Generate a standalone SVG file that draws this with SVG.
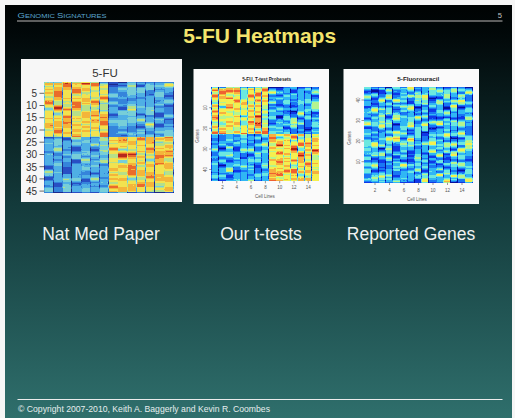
<svg xmlns="http://www.w3.org/2000/svg" width="515" height="418" viewBox="0 0 515 418">
  <defs>
    <style>
      .sans { font-family: "Liberation Sans", Arial, sans-serif; }
      .hd { font-family: "Liberation Sans", Arial, sans-serif; fill: #5ba6cf; }
      .title { font-family: "Liberation Sans", Arial, sans-serif; font-weight: bold; font-size: 21px; fill: #f4e46c; text-anchor: middle; }
      .cap { font-family: "Liberation Sans", Arial, sans-serif; font-size: 17.5px; fill: #f0f2f2; text-anchor: middle; }
      .panel { stroke: none; }
      .m1 { font-family: "Liberation Sans", Arial, sans-serif; font-size: 10px; fill: #333; text-anchor: end; }
      .rt { font-family: "Liberation Sans", Arial, sans-serif; font-weight: bold; fill: #222; text-anchor: middle; }
      .ra { font-family: "Liberation Sans", Arial, sans-serif; font-size: 4.5px; fill: #555; text-anchor: middle; }
      .tick { stroke: #555; stroke-width: 0.6; fill: none; }
      .tick1 { stroke: #444; stroke-width: 0.8; fill: none; }
    </style>

    <!-- slide background: near black at the top, teal at the bottom -->
    <linearGradient id="slideBg" x1="0" y1="0" x2="0" y2="1">
      <stop offset="0" stop-color="#000303"/>
      <stop offset="0.06" stop-color="#010708"/>
      <stop offset="0.484" stop-color="#133a3b"/>
      <stop offset="1" stop-color="#2f6f6c"/>
    </linearGradient>

    <!-- per-column expression bias: high in the upper block, low in the lower block, and vice versa -->
    <linearGradient id="upHigh" x1="0" y1="0" x2="0" y2="1">
      <stop offset="0" stop-color="#adadad"/>
      <stop offset="0.5" stop-color="#adadad"/>
      <stop offset="0.5" stop-color="#585858"/>
      <stop offset="1" stop-color="#585858"/>
    </linearGradient>
    <linearGradient id="upLow" x1="0" y1="0" x2="0" y2="1">
      <stop offset="0" stop-color="#585858"/>
      <stop offset="0.5" stop-color="#585858"/>
      <stop offset="0.5" stop-color="#adadad"/>
      <stop offset="1" stop-color="#adadad"/>
    </linearGradient>

    <!-- heatmap cell values: row noise (constant across a column) plus the column bias, mapped to a jet palette -->
    <filter id="hmA" x="0" y="0" width="1" height="1" color-interpolation-filters="sRGB">
      <feTurbulence type="fractalNoise" baseFrequency="0.0023 0.17" numOctaves="2" seed="4"/>
      <feColorMatrix type="matrix" values="1 0 0 0 0  1 0 0 0 0  1 0 0 0 0  0 0 0 0 1"/>
      <feComposite in2="SourceGraphic" operator="arithmetic" k1="0" k2="0.8" k3="1" k4="-0.4"/>
      <feComponentTransfer>
        <feFuncR type="discrete" tableValues=".11 .16 .21 .31 .47 .71 .95 .96 .92 .71"/>
        <feFuncG type="discrete" tableValues=".17 .31 .52 .69 .81 .88 .89 .71 .42 .16"/>
        <feFuncB type="discrete" tableValues=".55 .77 .86 .90 .85 .54 .31 .23 .17 .11"/>
        <feFuncA type="linear" slope="0" intercept="1"/>
      </feComponentTransfer>
    </filter>
    <filter id="hmB" x="0" y="0" width="1" height="1" color-interpolation-filters="sRGB">
      <feTurbulence type="fractalNoise" baseFrequency="0.0023 0.19" numOctaves="2" seed="11"/>
      <feColorMatrix type="matrix" values="1 0 0 0 0  1 0 0 0 0  1 0 0 0 0  0 0 0 0 1"/>
      <feComposite in2="SourceGraphic" operator="arithmetic" k1="0" k2="0.85" k3="1" k4="-0.425"/>
      <feComponentTransfer>
        <feFuncR type="discrete" tableValues=".03 .06 .10 .19 .42 .71 .96 .97 .94 .69"/>
        <feFuncG type="discrete" tableValues=".06 .22 .47 .72 .91 .96 .94 .69 .38 .13"/>
        <feFuncB type="discrete" tableValues=".61 .91 .96 .96 .88 .56 .31 .25 .19 .06"/>
        <feFuncA type="linear" slope="0" intercept="1"/>
      </feComponentTransfer>
    </filter>
    <filter id="hmC" x="0" y="0" width="1" height="1" color-interpolation-filters="sRGB">
      <feTurbulence type="fractalNoise" baseFrequency="0.0023 0.19" numOctaves="2" seed="23"/>
      <feColorMatrix type="matrix" values="1 0 0 0 0  1 0 0 0 0  1 0 0 0 0  0 0 0 0 1"/>
      <feComposite in2="SourceGraphic" operator="arithmetic" k1="0" k2="1.0" k3="1" k4="-0.5"/>
      <feComponentTransfer>
        <feFuncR type="discrete" tableValues=".03 .06 .10 .19 .42 .71 .96 .97 .94 .69"/>
        <feFuncG type="discrete" tableValues=".06 .22 .47 .72 .91 .96 .94 .69 .38 .13"/>
        <feFuncB type="discrete" tableValues=".61 .91 .96 .96 .88 .56 .31 .25 .19 .06"/>
        <feFuncA type="linear" slope="0" intercept="1"/>
      </feComponentTransfer>
    </filter>
  </defs>

  <!-- page and slide -->
  <rect width="515" height="418" fill="#f6f6f6"/>
  <rect x="5" y="5" width="507" height="413" fill="url(#slideBg)"/>

  <!-- running header -->
  <g id="header">
    <text class="hd" x="17.5" y="17.7" font-size="6" textLength="89" lengthAdjust="spacingAndGlyphs"><tspan font-size="7.6">G</tspan>ENOMIC <tspan font-size="7.6">S</tspan>IGNATURES</text>
    <text class="sans" x="502" y="17.6" font-size="7.6" fill="#c4c4c4" text-anchor="end">5</text>
    <line x1="17" y1="21" x2="502.5" y2="21" stroke="#7c7c7c" stroke-width="1.4"/>
  </g>

  <g id="title">
    <text class="title" x="259.7" y="42.5">5-FU Heatmaps</text>
  </g>

  <!-- panel 1: published heatmap -->
  <g id="panel-natmed">
    <rect class="panel" x="21" y="59" width="161" height="143" fill="#f7f7f7"/>
    <text class="sans" x="105" y="76.8" font-size="11.5" fill="#333" text-anchor="middle">5-FU</text>
    <g id="natmed-cells">
      <rect x="3000" y="82.3" width="9.3" height="110" fill="url(#upHigh)" filter="url(#hmA)" transform="translate(-2955.70 0)"/>
      <rect x="3613" y="82.3" width="9.3" height="110" fill="url(#upHigh)" filter="url(#hmA)" transform="translate(-3559.49 0)"/>
      <rect x="4226" y="82.3" width="9.3" height="110" fill="url(#upHigh)" filter="url(#hmA)" transform="translate(-4163.27 0)"/>
      <rect x="4839" y="82.3" width="9.3" height="110" fill="url(#upHigh)" filter="url(#hmA)" transform="translate(-4767.06 0)"/>
      <rect x="5452" y="82.3" width="9.3" height="110" fill="url(#upHigh)" filter="url(#hmA)" transform="translate(-5370.84 0)"/>
      <rect x="6065" y="82.3" width="9.3" height="110" fill="url(#upHigh)" filter="url(#hmA)" transform="translate(-5974.63 0)"/>
      <rect x="6678" y="82.3" width="9.3" height="110" fill="url(#upHigh)" filter="url(#hmA)" transform="translate(-6578.42 0)"/>
      <rect x="7291" y="82.3" width="9.3" height="110" fill="url(#upLow)" filter="url(#hmA)" transform="translate(-7182.20 0)"/>
      <rect x="7904" y="82.3" width="9.3" height="110" fill="url(#upLow)" filter="url(#hmA)" transform="translate(-7785.99 0)"/>
      <rect x="8517" y="82.3" width="9.3" height="110" fill="url(#upLow)" filter="url(#hmA)" transform="translate(-8389.77 0)"/>
      <rect x="9130" y="82.3" width="9.3" height="110" fill="url(#upLow)" filter="url(#hmA)" transform="translate(-8993.56 0)"/>
      <rect x="9743" y="82.3" width="9.3" height="110" fill="url(#upLow)" filter="url(#hmA)" transform="translate(-9597.35 0)"/>
      <rect x="10356" y="82.3" width="9.3" height="110" fill="url(#upLow)" filter="url(#hmA)" transform="translate(-10201.13 0)"/>
      <rect x="10969" y="82.3" width="9.22" height="110" fill="url(#upLow)" filter="url(#hmA)" transform="translate(-10804.92 0)"/>
    </g>
    <path class="tick1" d="M39.5 93.3H44.3M39.5 105.5H44.3M39.5 117.7H44.3M39.5 130H44.3M39.5 142.2H44.3M39.5 154.5H44.3M39.5 166.7H44.3M39.5 178.9H44.3M39.5 191.1H44.3"/>
    <text class="m1" x="37" y="97.3">5</text>
    <text class="m1" x="37" y="109.3">10</text>
    <text class="m1" x="37" y="121.3">15</text>
    <text class="m1" x="37" y="133.6">20</text>
    <text class="m1" x="37" y="145.9">25</text>
    <text class="m1" x="37" y="158.4">30</text>
    <text class="m1" x="37" y="170.7">35</text>
    <text class="m1" x="37" y="183.2">40</text>
    <text class="m1" x="37" y="195.4">45</text>
  </g>

  <!-- panel 2: t-test probesets -->
  <g id="panel-ttest">
    <rect class="panel" x="193.5" y="69" width="135.5" height="135" fill="#fafafa"/>
    <text class="rt" x="266.7" y="80.6" font-size="4.8" textLength="49" lengthAdjust="spacingAndGlyphs">5-FU, T-test Probesets</text>
    <g id="ttest-cells">
      <rect x="3000" y="87.3" width="7.2" height="93.7" fill="url(#upHigh)" filter="url(#hmB)" transform="translate(-2788.30 0)"/>
      <rect x="3613" y="87.3" width="7.2" height="93.7" fill="url(#upHigh)" filter="url(#hmB)" transform="translate(-3394.15 0)"/>
      <rect x="4226" y="87.3" width="7.2" height="93.7" fill="url(#upHigh)" filter="url(#hmB)" transform="translate(-4000.00 0)"/>
      <rect x="4839" y="87.3" width="7.2" height="93.7" fill="url(#upHigh)" filter="url(#hmB)" transform="translate(-4605.85 0)"/>
      <rect x="5452" y="87.3" width="7.2" height="93.7" fill="url(#upHigh)" filter="url(#hmB)" transform="translate(-5211.70 0)"/>
      <rect x="6065" y="87.3" width="7.2" height="93.7" fill="url(#upHigh)" filter="url(#hmB)" transform="translate(-5817.55 0)"/>
      <rect x="6678" y="87.3" width="7.2" height="93.7" fill="url(#upHigh)" filter="url(#hmB)" transform="translate(-6423.40 0)"/>
      <rect x="7291" y="87.3" width="7.2" height="93.7" fill="url(#upHigh)" filter="url(#hmB)" transform="translate(-7029.25 0)"/>
      <rect x="7904" y="87.3" width="7.2" height="93.7" fill="url(#upLow)" filter="url(#hmB)" transform="translate(-7635.10 0)"/>
      <rect x="8517" y="87.3" width="7.2" height="93.7" fill="url(#upLow)" filter="url(#hmB)" transform="translate(-8240.95 0)"/>
      <rect x="9130" y="87.3" width="7.2" height="93.7" fill="url(#upLow)" filter="url(#hmB)" transform="translate(-8846.80 0)"/>
      <rect x="9743" y="87.3" width="7.2" height="93.7" fill="url(#upLow)" filter="url(#hmB)" transform="translate(-9452.65 0)"/>
      <rect x="10356" y="87.3" width="7.2" height="93.7" fill="url(#upLow)" filter="url(#hmB)" transform="translate(-10058.50 0)"/>
      <rect x="10969" y="87.3" width="7.2" height="93.7" fill="url(#upLow)" filter="url(#hmB)" transform="translate(-10664.35 0)"/>
      <rect x="11582" y="87.3" width="7.15" height="93.7" fill="url(#upLow)" filter="url(#hmB)" transform="translate(-11270.20 0)"/>
    </g>
    <path class="tick" d="M209.2 107.7H211.7M209.2 128.3H211.7M209.2 149H211.7M209.2 169.5H211.7M222.5 181V183.3M236.8 181V183.3M251.1 181V183.3M265.4 181V183.3M279.7 181V183.3M294 181V183.3M308.3 181V183.3"/>
    <text class="ra" transform="translate(207.3 107.7) rotate(-90)">10</text>
    <text class="ra" transform="translate(207.3 128.3) rotate(-90)">20</text>
    <text class="ra" transform="translate(207.3 149) rotate(-90)">30</text>
    <text class="ra" transform="translate(207.3 169.5) rotate(-90)">40</text>
    <text class="ra" transform="translate(198.6 136) rotate(-90)">Genes</text>
    <text class="ra" x="222.5" y="189.3">2</text>
    <text class="ra" x="236.8" y="189.3">4</text>
    <text class="ra" x="251.1" y="189.3">6</text>
    <text class="ra" x="265.4" y="189.3">8</text>
    <text class="ra" x="279.7" y="189.3">10</text>
    <text class="ra" x="294" y="189.3">12</text>
    <text class="ra" x="308.3" y="189.3">14</text>
    <text class="ra" x="265" y="198.3">Cell Lines</text>
  </g>

  <!-- panel 3: reported genes -->
  <g id="panel-reported">
    <rect class="panel" x="343.5" y="69" width="135.5" height="135" fill="#fafafa"/>
    <text class="rt" x="418.3" y="80.6" font-size="5.4" textLength="42" lengthAdjust="spacingAndGlyphs">5-Fluorouracil</text>
    <g id="reported-cells">
      <rect x="3000" y="87.3" width="7.3" height="95.4" fill="#616161" filter="url(#hmC)" transform="translate(-2636.00 0)"/>
      <rect x="3613" y="87.3" width="7.3" height="95.4" fill="#616161" filter="url(#hmC)" transform="translate(-3241.78 0)"/>
      <rect x="4226" y="87.3" width="7.3" height="95.4" fill="#616161" filter="url(#hmC)" transform="translate(-3847.56 0)"/>
      <rect x="4839" y="87.3" width="7.3" height="95.4" fill="#616161" filter="url(#hmC)" transform="translate(-4453.34 0)"/>
      <rect x="5452" y="87.3" width="7.3" height="95.4" fill="#616161" filter="url(#hmC)" transform="translate(-5059.12 0)"/>
      <rect x="6065" y="87.3" width="7.3" height="95.4" fill="#616161" filter="url(#hmC)" transform="translate(-5664.90 0)"/>
      <rect x="6678" y="87.3" width="7.3" height="95.4" fill="#616161" filter="url(#hmC)" transform="translate(-6270.68 0)"/>
      <rect x="7291" y="87.3" width="7.3" height="95.4" fill="#616161" filter="url(#hmC)" transform="translate(-6876.46 0)"/>
      <rect x="7904" y="87.3" width="7.3" height="95.4" fill="#616161" filter="url(#hmC)" transform="translate(-7482.24 0)"/>
      <rect x="8517" y="87.3" width="7.3" height="95.4" fill="#616161" filter="url(#hmC)" transform="translate(-8088.02 0)"/>
      <rect x="9130" y="87.3" width="7.3" height="95.4" fill="#616161" filter="url(#hmC)" transform="translate(-8693.80 0)"/>
      <rect x="9743" y="87.3" width="7.3" height="95.4" fill="#616161" filter="url(#hmC)" transform="translate(-9299.58 0)"/>
      <rect x="10356" y="87.3" width="7.3" height="95.4" fill="#616161" filter="url(#hmC)" transform="translate(-9905.36 0)"/>
      <rect x="10969" y="87.3" width="7.3" height="95.4" fill="#616161" filter="url(#hmC)" transform="translate(-10511.14 0)"/>
      <rect x="11582" y="87.3" width="7.22" height="95.4" fill="#616161" filter="url(#hmC)" transform="translate(-11116.92 0)"/>
    </g>
    <path class="tick" d="M361.5 100H364M361.5 120.5H364M361.5 141H364M361.5 161.7H364M375 182.7V185M389.5 182.7V185M404 182.7V185M418.5 182.7V185M433 182.7V185M447.5 182.7V185M462 182.7V185"/>
    <text class="ra" transform="translate(359.9 100) rotate(-90)">40</text>
    <text class="ra" transform="translate(359.9 120.5) rotate(-90)">30</text>
    <text class="ra" transform="translate(359.9 141) rotate(-90)">20</text>
    <text class="ra" transform="translate(359.9 161.7) rotate(-90)">10</text>
    <text class="ra" transform="translate(350.6 138) rotate(-90)">Genes</text>
    <text class="ra" x="375" y="191.6">2</text>
    <text class="ra" x="389.5" y="191.6">4</text>
    <text class="ra" x="404" y="191.6">6</text>
    <text class="ra" x="418.5" y="191.6">8</text>
    <text class="ra" x="433" y="191.6">10</text>
    <text class="ra" x="447.5" y="191.6">12</text>
    <text class="ra" x="462" y="191.6">14</text>
    <text class="ra" x="417" y="200.6" font-size="4.7">Cell Lines</text>
  </g>

  <!-- captions under the panels -->
  <g id="captions">
    <text class="cap" x="101" y="240">Nat Med Paper</text>
    <text class="cap" x="261" y="240">Our t-tests</text>
    <text class="cap" x="411" y="240">Reported Genes</text>
  </g>

  <!-- footer -->
  <g id="footer">
    <line x1="17.5" y1="399.5" x2="502.5" y2="399.5" stroke="#ececec" stroke-width="1"/>
    <text class="sans" x="18" y="412" font-size="8.6" fill="#e6eeee" textLength="252" lengthAdjust="spacingAndGlyphs">© Copyright 2007-2010, Keith A. Baggerly and Kevin R. Coombes</text>
  </g>
</svg>
